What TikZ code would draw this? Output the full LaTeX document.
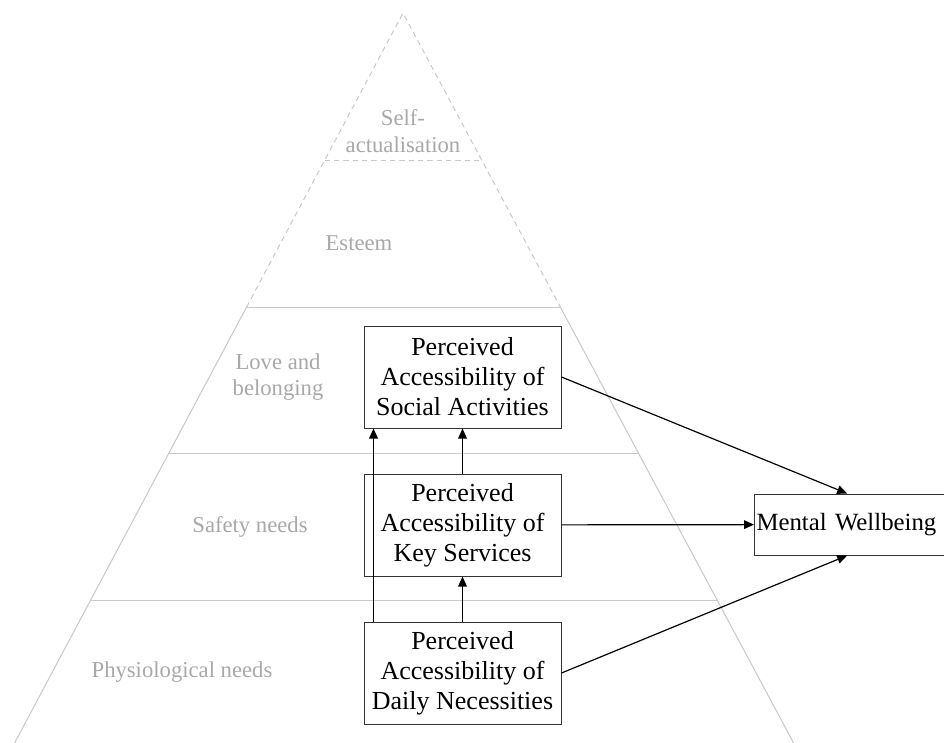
\documentclass[tikz,border=0pt]{standalone}
\usepackage{fontspec}
\setmainfont{Liberation Serif}
\usetikzlibrary{arrows.meta}

\definecolor{levelgray}{RGB}{168,168,168}
\definecolor{edgegray}{RGB}{200,200,200}

\tikzset{
  level/.style={text=levelgray, font=\fontsize{17pt}{20pt}\selectfont, align=center, inner sep=0pt},
  factor/.style={draw=black!80, line width=0.75pt, fill=white, align=center,
    minimum width=147.75pt, minimum height=76.5pt, inner sep=0pt,
    font=\fontsize{19.5pt}{22.5pt}\selectfont},
  conn/.style={line width=0.9pt, -{Triangle[length=7.5pt,width=6.5pt]}}
}

\begin{document}
\begin{tikzpicture}[x=0.75pt,y=-0.75pt]

  \useasboundingbox (0,0) rectangle (944,742);
  \clip (0,0) rectangle (944,742);

  \coordinate (P0) at (403,13);
  \coordinate (L1) at (324.8,160);
  \coordinate (R1) at (481.6,160);
  \coordinate (L2) at (246.6,307);
  \coordinate (R2) at (560.3,307);
  \coordinate (L3) at (169,453);
  \coordinate (R3) at (638.4,453);
  \coordinate (L4) at (90.7,600);
  \coordinate (R4) at (717,600);
  \coordinate (L5) at (8.2,755);
  \coordinate (R5) at (800,755);

  % Draw the pyramid levels
  \draw [edgegray, line width=0.75pt, dash pattern=on 4pt off 3pt] (L2) -- (P0) -- (R2);
  \draw [edgegray, line width=0.75pt, dash pattern=on 4pt off 3pt] (L1) -- (R1);
  \draw [edgegray, line width=0.75pt] (L2) -- (R2);
  \draw [edgegray, line width=0.75pt] (L3) -- (R3);
  \draw [edgegray, line width=0.75pt] (L4) -- (R4);
  \draw [edgegray, line width=0.75pt] (L2) -- (L5);
  \draw [edgegray, line width=0.75pt] (R2) -- (R5);

  \node [level] (selfact) at (403,131) {Self-\\actualisation};
  \node [level] (esteem) at (359,243) {Esteem};
  \node [level] (love) at (278,377) {Love and\\belonging};
  \node [level] (safety) at (250,527) {Safety needs};
  \node [level] (physio) at (182,672) {Physiological needs};

  % Perceived accessibility factors
  \node [factor] (social) at (462.5,377) {Perceived\\Accessibility of\\Social Activities};
  \node [factor] (key) at (462.5,525) {Perceived\\Accessibility of\\Key Services};
  \node [factor] (daily) at (462.5,673) {Perceived\\Accessibility of\\Daily Necessities};

  \node [draw=black!80, line width=0.75pt, fill=white, anchor=west, text width=144pt,
    align=left, minimum height=45.75pt, inner xsep=1.5pt, inner ysep=0pt,
    font=\fontsize{18.6pt}{22.5pt}\selectfont] (mental) at (754,524.5) {Mental Wellbeing};

  % Draw connectors between factors
  \draw [conn] (daily) -- (key);
  \draw [conn] (key) -- (social);
  \draw [conn] ([xshift=7.5pt]daily.north west) -- ([xshift=7.5pt]social.south west);
  \draw [conn] (social.east) -- ([xshift=-4pt]mental.north);
  \draw [conn] (key) -- (mental);
  \draw [conn] (daily.east) -- ([xshift=-4pt]mental.south);

\end{tikzpicture}
\end{document}
